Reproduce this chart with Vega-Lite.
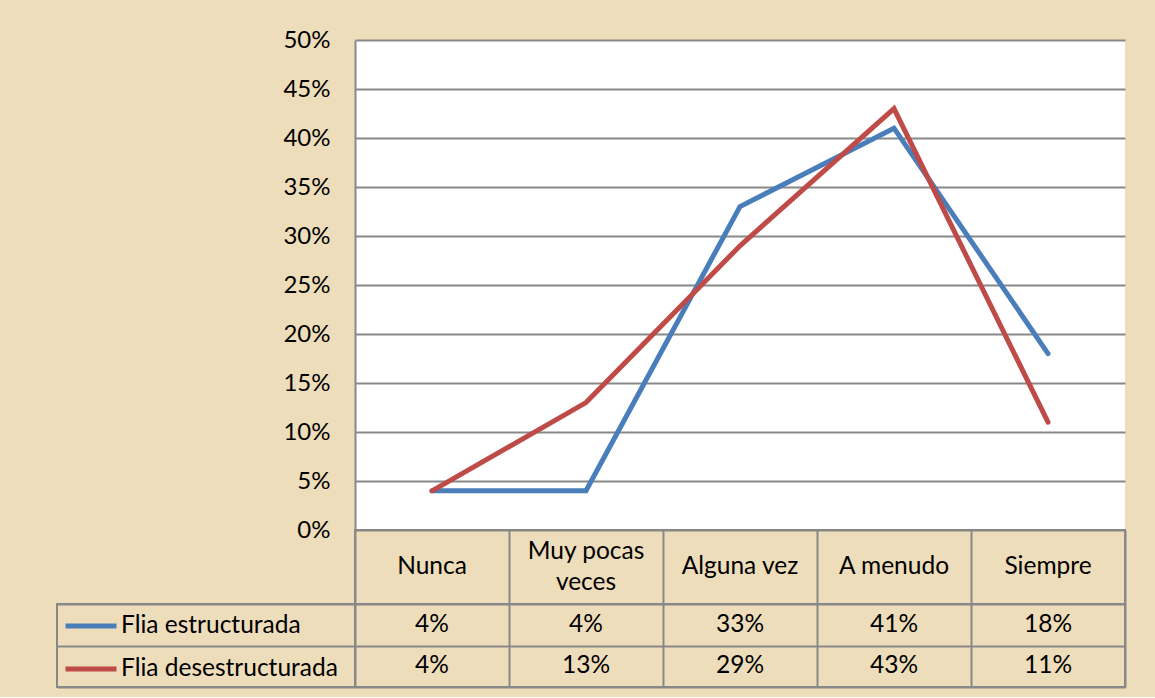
{
  "$schema": "https://vega.github.io/schema/vega-lite/v6.json",
  "background": "#EEDDBA",
  "padding": {"left": 50, "top": 28, "right": 30, "bottom": 9},
  "datasets": {
    "valores": [
      {"categoria": "Nunca", "serie": "Flia estructurada", "valor": 0.04},
      {"categoria": "Muy pocas veces", "serie": "Flia estructurada", "valor": 0.04},
      {"categoria": "Alguna vez", "serie": "Flia estructurada", "valor": 0.33},
      {"categoria": "A menudo", "serie": "Flia estructurada", "valor": 0.41},
      {"categoria": "Siempre", "serie": "Flia estructurada", "valor": 0.18},
      {"categoria": "Nunca", "serie": "Flia desestructurada", "valor": 0.04},
      {"categoria": "Muy pocas veces", "serie": "Flia desestructurada", "valor": 0.13},
      {"categoria": "Alguna vez", "serie": "Flia desestructurada", "valor": 0.29},
      {"categoria": "A menudo", "serie": "Flia desestructurada", "valor": 0.43},
      {"categoria": "Siempre", "serie": "Flia desestructurada", "valor": 0.11}
    ],
    "categorias": [
      {"categoria": "Nunca", "etiqueta": "Nunca"},
      {"categoria": "Muy pocas veces", "etiqueta": "Muy pocas\nveces"},
      {"categoria": "Alguna vez", "etiqueta": "Alguna vez"},
      {"categoria": "A menudo", "etiqueta": "A menudo"},
      {"categoria": "Siempre", "etiqueta": "Siempre"}
    ],
    "series": [
      {"serie": "Flia estructurada"},
      {"serie": "Flia desestructurada"}
    ]
  },
  "config": {
    "font": "Lato",
    "view": {"stroke": null},
    "axis": {"labelFont": "Lato", "labelColor": "#000000"},
    "scale": {"bandPaddingInner": 0, "bandPaddingOuter": 0},
    "text": {"font": "Lato", "fontSize": 24.5, "color": "#000000"}
  },
  "columns": 2,
  "spacing": 0,
  "bounds": "flush",
  "resolve": {
    "scale": {"x": "independent", "y": "independent", "stroke": "independent", "color": "independent"},
    "legend": {"stroke": "independent", "color": "independent"},
    "axis": {"x": "independent", "y": "independent"}
  },
  "concat": [
    {
      "width": 298,
      "height": 490,
      "data": {"values": [{}]},
      "mark": {"type": "point", "opacity": 0},
      "view": {"stroke": null}
    },
    {
      "width": 770,
      "height": 490,
      "data": {"name": "valores"},
      "mark": {"type": "line", "strokeWidth": 5, "strokeCap": "round", "strokeJoin": "miter"},
      "encoding": {
        "x": {
          "field": "categoria", "type": "ordinal",
          "sort": ["Nunca", "Muy pocas veces", "Alguna vez", "A menudo", "Siempre"],
          "scale": {"type": "point", "padding": 0.5},
          "axis": null
        },
        "y": {
          "field": "valor", "type": "quantitative",
          "scale": {"domain": [0, 0.5], "nice": false},
          "axis": {
            "values": [0, 0.05, 0.1, 0.15, 0.2, 0.25, 0.3, 0.35, 0.4, 0.45, 0.5],
            "format": ".0%", "grid": true, "gridColor": "#888888", "gridWidth": 2,
            "domainColor": "#888888", "domainWidth": 2, "ticks": false, "tickSize": 0,
            "labelPadding": 25, "labelFontSize": 24, "title": null
          }
        },
        "color": {
          "field": "serie", "type": "nominal",
          "scale": {"domain": ["Flia estructurada", "Flia desestructurada"], "range": ["#4A7EBB", "#BE4B48"]},
          "legend": null
        }
      },
      "view": {"fill": "#FFFFFF", "stroke": null}
    },
    {
      "width": 298,
      "height": 74,
      "data": {"values": [{}]},
      "mark": {"type": "point", "opacity": 0},
      "view": {"stroke": null}
    },
    {
      "width": 770,
      "height": 74,
      "data": {"name": "categorias"},
      "encoding": {
        "x": {
          "field": "categoria", "type": "nominal",
          "sort": ["Nunca", "Muy pocas veces", "Alguna vez", "A menudo", "Siempre"],
          "axis": {"grid": true, "tickBand": "extent", "labels": false, "ticks": false, "domain": false, "title": null, "gridColor": "#888888", "gridWidth": 2}
        },
        "text": {"field": "etiqueta"}
      },
      "layer": [
        {
          "transform": [{"filter": "datum.categoria != 'Muy pocas veces'"}],
          "mark": {"type": "text", "baseline": "middle"}
        },
        {
          "transform": [{"filter": "datum.categoria == 'Muy pocas veces'"}],
          "mark": {"type": "text", "baseline": "middle", "lineBreak": "\n", "lineHeight": 31, "dy": -15.5}
        }
      ],
      "view": {"stroke": "#888888", "strokeWidth": 2}
    },
    {
      "width": 298,
      "height": 83,
      "data": {"name": "series"},
      "mark": {"type": "text", "text": ""},
      "encoding": {
        "y": {
          "field": "serie", "type": "nominal",
          "sort": ["Flia estructurada", "Flia desestructurada"],
          "axis": {"grid": true, "tickBand": "extent", "labels": false, "ticks": false, "domain": false, "title": null, "gridColor": "#888888", "gridWidth": 2}
        },
        "stroke": {
          "field": "serie", "type": "nominal",
          "scale": {"domain": ["Flia estructurada", "Flia desestructurada"], "range": ["#4A7EBB", "#BE4B48"]},
          "legend": {
            "title": null, "orient": "top-left", "offset": -6, "padding": 0,
            "symbolType": "stroke", "symbolSize": 2601, "symbolStrokeWidth": 5,
            "symbolOffset": 12, "labelOffset": 2, "rowPadding": 3,
            "labelFont": "Lato", "labelFontSize": 24.5, "labelColor": "#000000", "labelLimit": 400,
            "encode": {"symbols": {"update": {"strokeCap": {"value": "round"}}}}
          }
        }
      },
      "view": {"stroke": "#888888", "strokeWidth": 2}
    },
    {
      "width": 770,
      "height": 83,
      "data": {"name": "valores"},
      "mark": {"type": "text", "baseline": "middle"},
      "encoding": {
        "x": {
          "field": "categoria", "type": "nominal",
          "sort": ["Nunca", "Muy pocas veces", "Alguna vez", "A menudo", "Siempre"],
          "axis": {"grid": true, "tickBand": "extent", "labels": false, "ticks": false, "domain": false, "title": null, "gridColor": "#888888", "gridWidth": 2}
        },
        "y": {
          "field": "serie", "type": "nominal",
          "sort": ["Flia estructurada", "Flia desestructurada"],
          "axis": {"grid": true, "tickBand": "extent", "labels": false, "ticks": false, "domain": false, "title": null, "gridColor": "#888888", "gridWidth": 2}
        },
        "text": {"field": "valor", "format": ".0%"}
      },
      "view": {"stroke": "#888888", "strokeWidth": 2}
    }
  ]
}
